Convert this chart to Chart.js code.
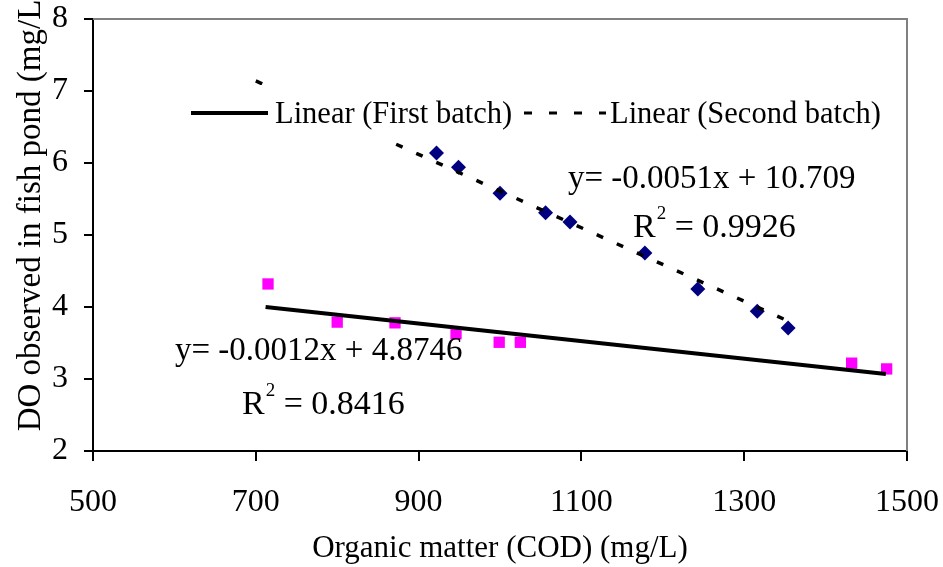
<!DOCTYPE html>
<html>
<head>
<meta charset="utf-8">
<script src="https://cdn.jsdelivr.net/npm/chart.js@4"></script>
<style>
  html, body { margin: 0; padding: 0; background: #fff; }
  #wrap { width: 943px; height: 567px; }
</style>
</head>
<body>
<div id="wrap"><canvas id="plot-area"></canvas></div>
<script>
// first batch (magenta squares)
const firstCod = [715, 800, 871, 946, 999, 1025, 1432, 1475];
const firstDo = [4.32, 3.79, 3.78, 3.63, 3.51, 3.51, 3.22, 3.14];
// second batch (navy diamonds)
const secondCod = [922, 949, 1000, 1056, 1086, 1178, 1243, 1316, 1354];
const secondDo = [6.14, 5.94, 5.58, 5.31, 5.18, 4.75, 4.25, 3.94, 3.71];
// trendline end points
const firstTrendCod = [712, 1474];
const firstTrendDo = [4.0, 3.07];
const secondTrendCod = [700, 1355];
const secondTrendDo = [7.14, 3.8];

const xTicks = [500, 700, 900, 1100, 1300, 1500];
const yTicks = [2, 3, 4, 5, 6, 7, 8];

const firstEq = "y= -0.0012x + 4.8746";
const firstR2 = "0.8416";
const secondEq = "y= -0.0051x + 10.709";
const secondR2 = "0.9926";

function toPoints(xs, ys) {
  return xs.map((x, i) => ({ x: x, y: ys[i] }));
}

const serif = "'Liberation Serif', 'Times New Roman', serif";

function drawR2(ctx, x, y, value) {
  ctx.font = "34px " + serif;
  ctx.fillText("R", x, y);
  let w = ctx.measureText("R").width;
  ctx.font = "19px " + serif;
  ctx.fillText("2", x + w + 1, y - 18);
  let w2 = ctx.measureText("2").width;
  ctx.font = "34px " + serif;
  ctx.fillText(" = " + value, x + w + w2 + 1, y);
}

const extras = {
  id: "extras",
  beforeDatasetsDraw(chart) {
    const ctx = chart.ctx;
    const a = chart.chartArea;
    ctx.save();
    ctx.strokeStyle = "#808080";
    ctx.lineWidth = 2;
    ctx.beginPath();
    ctx.moveTo(a.left, a.top);
    ctx.lineTo(a.right, a.top);
    ctx.lineTo(a.right, a.bottom);
    ctx.stroke();
    ctx.restore();
  },
  afterDatasetsDraw(chart) {
    const ctx = chart.ctx;
    ctx.save();
    // legend box
    ctx.fillStyle = "#fff";
    ctx.fillRect(185, 85, 710, 55);
    ctx.strokeStyle = "#000";
    ctx.lineWidth = 4;
    ctx.beginPath();
    ctx.moveTo(191, 113);
    ctx.lineTo(268, 113);
    ctx.stroke();
    ctx.lineWidth = 3;
    ctx.setLineDash([8, 17]);
    ctx.beginPath();
    ctx.moveTo(524, 113);
    ctx.lineTo(606, 113);
    ctx.stroke();
    ctx.setLineDash([]);
    ctx.fillStyle = "#000";
    ctx.textBaseline = "alphabetic";
    ctx.font = "30.5px " + serif;
    ctx.fillText("Linear (First batch)", 275, 123);
    ctx.fillText("Linear (Second batch)", 610, 123);

    // equations
    ctx.font = "33px " + serif;
    ctx.fillText(secondEq, 568, 188);
    drawR2(ctx, 633, 237, secondR2);
    ctx.font = "33px " + serif;
    ctx.fillText(firstEq, 175, 360);
    drawR2(ctx, 242, 414, firstR2);

    // y axis title
    ctx.translate(31, 210);
    ctx.rotate(-Math.PI / 2);
    ctx.textAlign = "center";
    ctx.textBaseline = "middle";
    ctx.font = "33px " + serif;
    ctx.fillText("DO observed in fish pond (mg/L)", 0, 0);
    ctx.restore();
  },
};

const config = {
  type: "scatter",
  data: {
    datasets: [
      {
        label: "Linear (First batch)",
        data: toPoints(firstTrendCod, firstTrendDo),
        showLine: true,
        borderColor: "#000",
        borderWidth: 4,
        pointRadius: 0,
      },
      {
        label: "Linear (Second batch)",
        data: toPoints(secondTrendCod, secondTrendDo),
        showLine: true,
        borderColor: "#000",
        borderWidth: 3.5,
        borderDash: [7, 15],
        pointRadius: 0,
      },
      {
        label: "First batch",
        data: toPoints(firstCod, firstDo),
        pointStyle: "rect",
        pointRadius: 8,
        backgroundColor: "#ff00ff",
        borderColor: "#ff00ff",
        borderWidth: 0,
      },
      {
        label: "Second batch",
        data: toPoints(secondCod, secondDo),
        pointStyle: "rectRot",
        pointRadius: 7.5,
        backgroundColor: "#000080",
        borderColor: "#000080",
        borderWidth: 0,
      },
    ],
  },
  options: {
    responsive: true,
    maintainAspectRatio: false,
    animation: false,
    layout: { padding: { top: 19, right: 36, bottom: 0, left: 0 } },
    scales: {
      x: {
        type: "linear",
        min: 500,
        max: 1500,
        afterBuildTicks: (s) => { s.ticks = xTicks.map((v) => ({ value: v })); },
        afterFit: (s) => { s.height = 116; s.paddingLeft = 0; s.paddingRight = 0; },
        grid: { drawOnChartArea: false, drawTicks: true, tickLength: 10, color: "#000", lineWidth: 2 },
        border: { display: true, color: "#000", width: 2 },
        ticks: {
          color: "#000",
          padding: 22,
          maxRotation: 0,
          font: { family: serif, size: 32 },
          callback: (v) => String(v),
        },
        title: {
          display: true,
          text: "Organic matter (COD) (mg/L)",
          color: "#000",
          padding: { top: 0, bottom: 0 },
          font: { family: serif, size: 31 },
        },
      },
      y: {
        type: "linear",
        min: 2,
        max: 8,
        afterBuildTicks: (s) => { s.ticks = yTicks.map((v) => ({ value: v })); },
        afterFit: (s) => { s.width = 93; s.paddingTop = 0; s.paddingBottom = 0; },
        grid: { drawOnChartArea: false, drawTicks: true, tickLength: 9, color: "#000", lineWidth: 2 },
        border: { display: true, color: "#000", width: 2 },
        ticks: { color: "#000", padding: 16, font: { family: serif, size: 32 }, callback: (v) => String(v) },
      },
    },
    plugins: {
      legend: { display: false },
      tooltip: { enabled: false },
    },
  },
  plugins: [extras],
};

new Chart(document.getElementById("plot-area").getContext("2d"), config);
</script>
</body>
</html>
